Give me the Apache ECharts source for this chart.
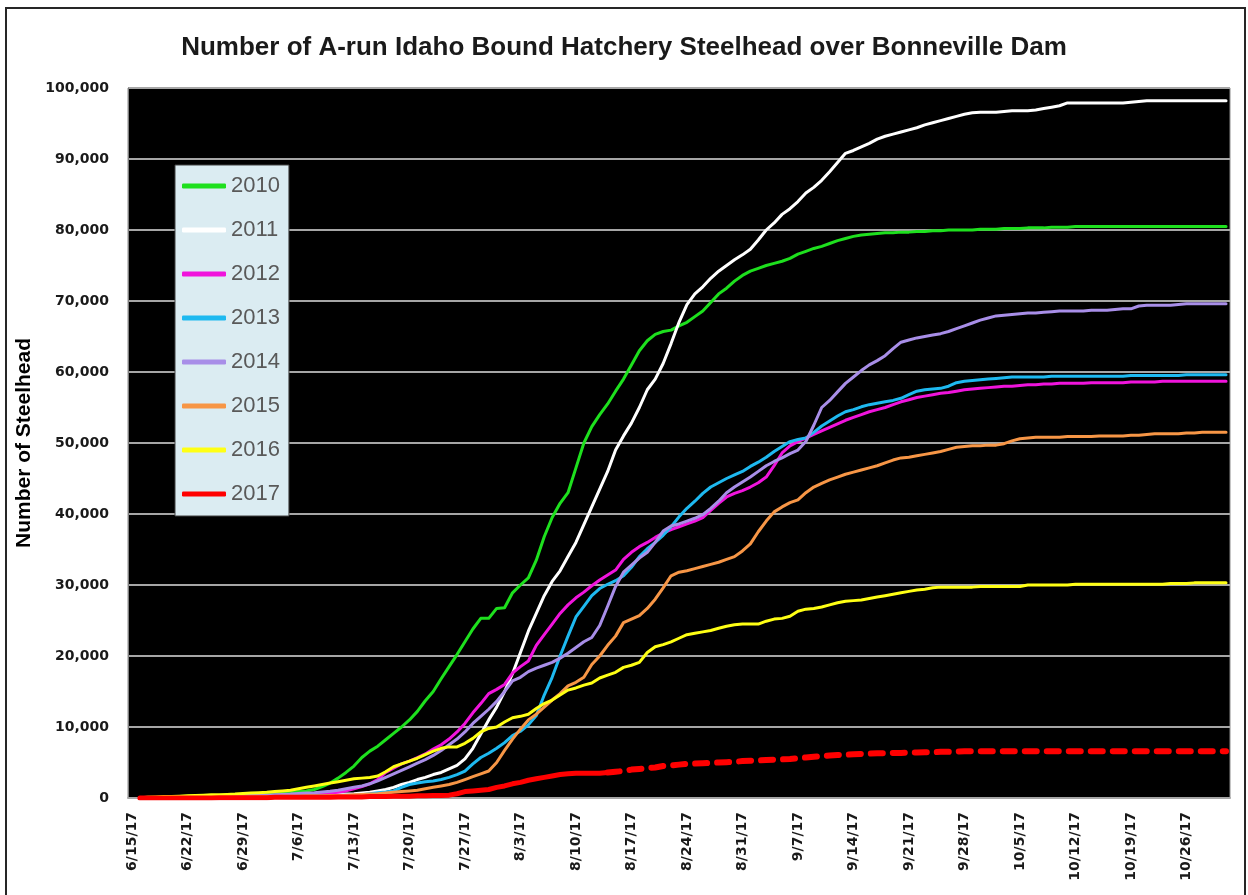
<!DOCTYPE html>
<html>
<head>
<meta charset="utf-8">
<script src="https://cdn.jsdelivr.net/npm/echarts@6/dist/echarts.min.js"></script>
<style>
html,body{margin:0;padding:0;background:#fff;}
#chart{position:absolute;left:0;top:0;width:1248px;height:895px;}
#frame{position:absolute;left:5px;top:7px;width:1237px;height:900px;border:2px solid #262626;border-bottom:none;pointer-events:none;}
</style>
</head>
<body>
<div id="chart"></div>
<div id="frame"></div>
<script>
// ---- data (daily cumulative counts, 6/15 .. 10/31) ----
const startDate = [2017, 6, 15];
const dayCount = 139;
const yTicks = [0, 10000, 20000, 30000, 40000, 50000, 60000, 70000, 80000, 90000, 100000];
const years = ['2010', '2011', '2012', '2013', '2014', '2015', '2016', '2017'];

const y2010 = [
  null, 0, 100, 100, 150, 200, 200,
  250, 300, 300, 350, 350, 400, 400,
  400, 450, 500, 550, 600, 700, 800,
  900, 1000, 1200, 1600, 2100, 2800, 3600,
  4500, 5700, 6600, 7300, 8200, 9100, 10000,
  11000, 12200, 13700, 15000, 16800, 18500, 20200,
  22000, 23800, 25300, 25300, 26700, 26800, 28900,
  30000, 31000, 33500, 36800, 39500, 41500, 43000,
  46500, 50000, 52300, 54000, 55500, 57300, 59000,
  61000, 63000, 64400, 65300, 65700, 65900, 66500,
  67000, 67800, 68600, 69800, 71000, 71800, 72800,
  73600, 74200, 74600, 75000, 75300, 75600, 76000,
  76600, 77000, 77400, 77700, 78100, 78500, 78800,
  79100, 79300, 79400, 79500, 79600, 79600, 79700,
  79700, 79800, 79800, 79900, 79900, 80000, 80000,
  80000, 80000, 80100, 80100, 80100, 80200, 80200,
  80200, 80300, 80300, 80300, 80400, 80400, 80400,
  80500, 80500, 80500, 80500, 80500, 80500, 80500,
  80500, 80500, 80500, 80500, 80500, 80500, 80500,
  80500, 80500, 80500, 80500, 80500, 80500
];
const y2011 = [
  null, 0, 0, 50, 50, 50, 100,
  100, 100, 100, 150, 150, 200, 200,
  200, 250, 250, 300, 300, 350, 400,
  400, 400, 450, 450, 500, 500, 550,
  600, 700, 800, 1000, 1200, 1500, 1900,
  2200, 2600, 2900, 3300, 3600, 4100, 4600,
  5500, 7000, 9000, 11000, 12800, 15000, 17500,
  20500, 23500, 26000, 28500, 30500, 32000, 34000,
  36000, 38500, 41000, 43500, 46000, 49000, 51000,
  52800, 55000, 57500, 59000, 61200, 64000, 67000,
  69500, 71000, 72000, 73200, 74200, 75000, 75800,
  76500, 77300, 78600, 80000, 81000, 82200, 83000,
  84000, 85200, 86000, 87000, 88200, 89500, 90800,
  91200, 91700, 92200, 92800, 93200, 93500, 93800,
  94100, 94400, 94800, 95100, 95400, 95700, 96000,
  96300, 96500, 96600, 96600, 96600, 96700, 96800,
  96800, 96800, 96900, 97100, 97300, 97500, 97900,
  97900, 97900, 97900, 97900, 97900, 97900, 97900,
  98000, 98100, 98200, 98200, 98200, 98200, 98200,
  98200, 98200, 98200, 98200, 98200, 98200
];
const y2012 = [
  null, 0, 0, 50, 50, 50, 100,
  100, 100, 150, 150, 150, 200, 200,
  200, 250, 250, 300, 300, 350, 400,
  450, 500, 550, 600, 700, 800, 1000,
  1300, 1600, 2000, 2600, 3600, 4200, 4800,
  5200, 5700, 6200, 6900, 7500, 8300, 9300,
  10500, 12000, 13300, 14700, 15300, 16000, 17600,
  18500, 19300, 21500, 23000, 24500, 26000, 27200,
  28200, 29000, 29900, 30700, 31400, 32100, 33600,
  34600, 35400, 36000, 36700, 37300, 37800, 38200,
  38600, 39000, 39500, 40500, 41500, 42400, 42900,
  43300, 43800, 44400, 45200, 46800, 48600, 49600,
  50200, 50700, 51200, 51700, 52200, 52700, 53200,
  53600, 54000, 54400, 54700, 55000, 55400, 55800,
  56100, 56400, 56600, 56800, 57000, 57100, 57300,
  57500, 57600, 57700, 57800, 57900, 58000, 58000,
  58100, 58200, 58200, 58300, 58300, 58400, 58400,
  58400, 58400, 58500, 58500, 58500, 58500, 58500,
  58600, 58600, 58600, 58600, 58700, 58700, 58700,
  58700, 58700, 58700, 58700, 58700, 58700
];
const y2013 = [
  null, 0, 0, 0, 50, 50, 50,
  50, 100, 100, 100, 100, 150, 150,
  150, 150, 200, 200, 200, 250, 250,
  250, 300, 300, 300, 350, 350, 400,
  400, 450, 600, 750, 850, 1000, 1500,
  1900, 2100, 2300, 2400, 2600, 2900, 3300,
  3800, 4800, 5700, 6300, 7000, 7800, 8800,
  9400, 10300, 11600, 14500, 17000, 20000, 22800,
  25500, 27000, 28500, 29500, 30100, 30600, 31300,
  32500, 34000, 35100, 36000, 37000, 38200, 39600,
  40800, 41800, 42900, 43800, 44400, 45000, 45500,
  46000, 46700, 47300, 48000, 48800, 49500, 50200,
  50500, 50700, 51500, 52400, 53100, 53800, 54400,
  54700, 55100, 55400, 55600, 55800, 56000, 56300,
  56800, 57300, 57500, 57600, 57700, 58000, 58500,
  58700, 58800, 58900, 59000, 59100, 59200, 59300,
  59300, 59300, 59300, 59300, 59400, 59400, 59400,
  59400, 59400, 59400, 59400, 59400, 59400, 59400,
  59500, 59500, 59500, 59500, 59500, 59500, 59500,
  59600, 59600, 59600, 59600, 59600, 59600
];
const y2014 = [
  null, 0, 50, 50, 100, 100, 100,
  150, 150, 200, 200, 250, 250, 300,
  300, 350, 400, 400, 450, 500, 550,
  650, 700, 750, 850, 950, 1100, 1300,
  1500, 1700, 2000, 2400, 2900, 3400, 3900,
  4400, 4900, 5400, 6000, 6700, 7500, 8300,
  9300, 10500, 11500, 12500, 13600, 15000, 16500,
  17000, 17800, 18300, 18700, 19100, 19700, 20400,
  21200, 22000, 22600, 24300, 27000, 29800, 31800,
  32800, 33800, 34600, 36000, 37600, 38300, 38600,
  39000, 39400, 39900, 40800, 41800, 43000, 43800,
  44500, 45200, 46000, 46800, 47400, 47900, 48500,
  49000, 50200, 52500, 55000, 56000, 57200, 58400,
  59300, 60200, 61000, 61600, 62300, 63300, 64200,
  64500, 64800, 65000, 65200, 65400, 65700, 66100,
  66500, 66900, 67300, 67600, 67900, 68000, 68100,
  68200, 68300, 68300, 68400, 68500, 68600, 68600,
  68600, 68600, 68700, 68700, 68700, 68800, 68900,
  68900, 69300, 69400, 69400, 69400, 69400, 69500,
  69600, 69600, 69600, 69600, 69600, 69600
];
const y2015 = [
  null, 0, 0, 0, 50, 50, 50,
  50, 100, 100, 100, 100, 150, 150,
  150, 150, 200, 200, 200, 250, 250,
  250, 300, 300, 300, 350, 350, 400,
  450, 500, 550, 600, 700, 800, 900,
  1000, 1100, 1300, 1500, 1700, 1900, 2200,
  2600, 3000, 3400, 3800, 5000, 6700, 8300,
  9700, 11000, 11800, 12800, 13800, 14700, 15800,
  16300, 17000, 18800, 20000, 21500, 22800, 24700,
  25200, 25700, 26700, 28000, 29600, 31300, 31800,
  32000, 32300, 32600, 32900, 33200, 33600, 34000,
  34800, 35800, 37500, 39000, 40300, 41000, 41600,
  42000, 43000, 43800, 44300, 44800, 45200, 45600,
  45900, 46200, 46500, 46800, 47200, 47600, 47900,
  48000, 48200, 48400, 48600, 48800, 49100, 49400,
  49500, 49600, 49600, 49700, 49700, 49900, 50300,
  50600, 50700, 50800, 50800, 50800, 50800, 50900,
  50900, 50900, 50900, 51000, 51000, 51000, 51000,
  51100, 51100, 51200, 51300, 51300, 51300, 51300,
  51400, 51400, 51500, 51500, 51500, 51500
];
const y2016 = [
  null, 50, 100, 150, 200, 200, 250,
  300, 350, 400, 450, 450, 500, 550,
  650, 700, 750, 800, 900, 1000, 1100,
  1300, 1500, 1700, 1900, 2100, 2300, 2500,
  2700, 2800, 2900, 3100, 3700, 4400, 4800,
  5200, 5600, 6100, 6600, 7000, 7200, 7200,
  7700, 8400, 9300, 9800, 10000, 10700, 11300,
  11500, 11800, 12600, 13300, 13800, 14500, 15200,
  15500, 15900, 16200, 16900, 17300, 17700, 18400,
  18700, 19100, 20500, 21300, 21600, 22000, 22500,
  23000, 23200, 23400, 23600, 23900, 24200, 24400,
  24500, 24500, 24500, 24900, 25200, 25300, 25600,
  26300, 26600, 26700, 26900, 27200, 27500, 27700,
  27800, 27900, 28100, 28300, 28500, 28700, 28900,
  29100, 29300, 29400, 29600, 29700, 29700, 29700,
  29700, 29700, 29800, 29800, 29800, 29800, 29800,
  29800, 30000, 30000, 30000, 30000, 30000, 30000,
  30100, 30100, 30100, 30100, 30100, 30100, 30100,
  30100, 30100, 30100, 30100, 30100, 30200, 30200,
  30200, 30300, 30300, 30300, 30300, 30300
];
// 2017 observed counts (through 8/14)
const y2017 = [
  null, 0, 0, 0, 0, 0, 0,
  0, 0, 0, 0, 50, 50, 50,
  50, 50, 50, 50, 100, 100, 100,
  100, 100, 100, 100, 100, 150, 150,
  150, 150, 200, 200, 200, 250, 250,
  250, 300, 300, 350, 350, 400, 600,
  900, 1000, 1100, 1200, 1500, 1700, 2000,
  2200, 2500, 2700, 2900, 3100, 3300, 3400,
  3500, 3500, 3500, 3500, 3600
];
// 2017 projection (dashed), from 8/14 onward
const y2017proj = [
  null, null, null, null, null, null, null,
  null, null, null, null, null, null, null,
  null, null, null, null, null, null, null,
  null, null, null, null, null, null, null,
  null, null, null, null, null, null, null,
  null, null, null, null, null, null, null,
  null, null, null, null, null, null, null,
  null, null, null, null, null, null, null,
  null, null, null, null, 3600, 3700, 3800,
  4000, 4100, 4200, 4300, 4500, 4600, 4700,
  4800, 4850, 4900, 4950, 5000, 5050, 5100,
  5200, 5250, 5300, 5350, 5400, 5450, 5500,
  5600, 5700, 5800, 5900, 6000, 6050, 6100,
  6150, 6200, 6250, 6300, 6300, 6350, 6350,
  6400, 6400, 6450, 6450, 6500, 6500, 6550,
  6600, 6600, 6600, 6600, 6600, 6600, 6600,
  6600, 6600, 6600, 6600, 6600, 6600, 6600,
  6600, 6600, 6600, 6600, 6600, 6600, 6600,
  6600, 6600, 6600, 6600, 6600, 6600, 6600,
  6600, 6600, 6600, 6600, 6600, 6600
];

// ---- category labels (dates) ----
const categories = [];
{
  const d0 = new Date(startDate[0], startDate[1] - 1, startDate[2]);
  for (let i = 0; i < dayCount; i++) {
    const d = new Date(d0.getTime());
    d.setDate(d0.getDate() + i);
    categories.push((d.getMonth() + 1) + '/' + d.getDate() + '/' + String(d.getFullYear()).slice(2));
  }
}

const colors = {
  '2010': '#1ee01e', '2011': '#ffffff', '2012': '#f014dc', '2013': '#1eb9f0',
  '2014': '#a88ee8', '2015': '#f79646', '2016': '#ffff14', '2017': '#ff0000'
};
const seriesData = {
  '2010': y2010, '2011': y2011, '2012': y2012, '2013': y2013,
  '2014': y2014, '2015': y2015, '2016': y2016, '2017': y2017
};

const series = years.map(function (yr) {
  return {
    name: yr,
    type: 'line',
    data: seriesData[yr],
    showSymbol: false,
    symbol: 'none',
    connectNulls: false,
    color: colors[yr],
    lineStyle: { width: yr === '2017' ? 5 : 3, color: colors[yr], cap: 'round', join: 'round' },
    z: 2
  };
});
series.push({
  name: '2017 projection',
  type: 'line',
  data: y2017proj,
  symbol: 'none',
  color: '#ff0000',
  lineStyle: { width: 6, color: '#ff0000', type: [12, 10], cap: 'round' },
  z: 3
});

const chart = echarts.init(document.getElementById('chart'), null, { renderer: 'canvas' });
chart.setOption({
  animation: false,
  backgroundColor: '#ffffff',
  title: {
    text: 'Number of A-run Idaho Bound Hatchery Steelhead over Bonneville Dam',
    left: 'center',
    top: 30,
    textStyle: {
      fontFamily: '"Liberation Sans", Arial, sans-serif',
      fontWeight: 'bold',
      fontSize: 26,
      color: '#1a1a1a'
    }
  },
  legend: {
    data: years,
    orient: 'vertical',
    left: 175,
    top: 165,
    padding: [10, 9, 11, 7],
    itemGap: 22,
    itemWidth: 44,
    itemHeight: 5,
    icon: 'roundRect',
    backgroundColor: '#dbecf2',
    borderColor: '#404040',
    borderWidth: 1,
    selectedMode: false,
    textStyle: {
      fontFamily: '"Liberation Sans", Arial, sans-serif',
      fontSize: 22,
      lineHeight: 22,
      color: '#595959'
    }
  },
  grid: {
    left: 128,
    right: 18,
    top: 88,
    bottom: 97,
    show: true,
    backgroundColor: '#000000',
    borderColor: '#8c8c8c',
    borderWidth: 1
  },
  xAxis: {
    type: 'category',
    data: categories,
    boundaryGap: true,
    axisLine: { show: true, lineStyle: { color: '#a6a6a6', width: 2 } },
    axisTick: { show: false },
    axisLabel: {
      interval: 6,
      rotate: 90,
      margin: 14,
      fontFamily: '"DejaVu Sans", Verdana, sans-serif',
      fontWeight: 'bold',
      fontSize: 14,
      color: '#1a1a1a'
    },
    splitLine: { show: false }
  },
  yAxis: {
    type: 'value',
    min: yTicks[0],
    max: yTicks[yTicks.length - 1],
    interval: yTicks[1] - yTicks[0],
    name: 'Number of Steelhead',
    nameLocation: 'middle',
    nameRotate: 90,
    nameGap: 84,
    nameTextStyle: {
      fontFamily: '"Liberation Sans", Arial, sans-serif',
      fontWeight: 'bold',
      fontSize: 21,
      color: '#000000'
    },
    axisLine: { show: true, lineStyle: { color: '#7f7f7f', width: 1 } },
    axisTick: { show: false },
    axisLabel: {
      margin: 19,
      fontFamily: '"DejaVu Sans", Verdana, sans-serif',
      fontWeight: 'bold',
      fontSize: 14,
      color: '#1a1a1a',
      formatter: function (v) { return v.toLocaleString('en-US'); }
    },
    splitLine: { show: true, lineStyle: { color: '#a6a6a6', width: 2 } }
  },
  series: series
});
</script>
</body>
</html>
